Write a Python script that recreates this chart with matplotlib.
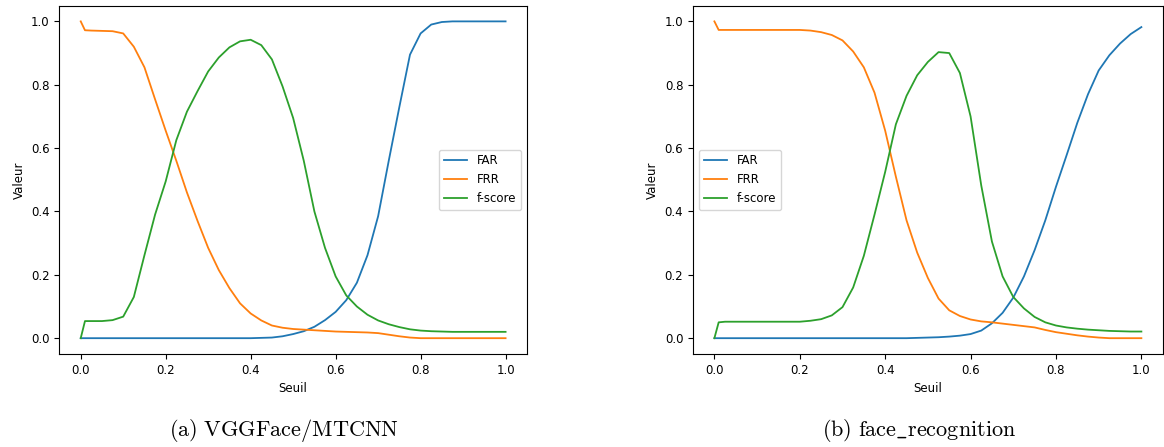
import matplotlib
matplotlib.use("Agg")
import matplotlib.pyplot as plt

plt.rcParams['mathtext.fontset'] = 'cm'
plt.rcParams['font.size'] = 8.5

# seuils communs aux deux courbes
seuil = [0.0, 0.01, 0.025, 0.05, 0.075, 0.1, 0.125, 0.15, 0.175, 0.2,
         0.225, 0.25, 0.275, 0.3, 0.325, 0.35, 0.375, 0.4, 0.425, 0.45,
         0.475, 0.5, 0.525, 0.55, 0.575, 0.6, 0.625, 0.65, 0.675, 0.7,
         0.725, 0.75, 0.775, 0.8, 0.825, 0.85, 0.875, 0.9, 0.925, 0.95,
         0.975, 1.0]

# (a) VGGFace/MTCNN
far_vgg = [0, 0, 0, 0, 0, 0, 0, 0, 0, 0,
           0, 0, 0, 0, 0, 0, 0, 0, 0.001, 0.002,
           0.006, 0.013, 0.022, 0.036, 0.057, 0.083, 0.12, 0.175, 0.262, 0.385,
           0.56, 0.73, 0.895, 0.962, 0.99, 0.998, 1.0, 1.0, 1.0, 1.0,
           1.0, 1.0]
frr_vgg = [1.0, 0.972, 0.971, 0.970, 0.969, 0.962, 0.92, 0.855, 0.754, 0.655,
           0.56, 0.46, 0.37, 0.285, 0.215, 0.158, 0.11, 0.078, 0.056, 0.04,
           0.033, 0.029, 0.027, 0.025, 0.023, 0.021, 0.02, 0.019, 0.018, 0.016,
           0.011, 0.006, 0.002, 0.0, 0.0, 0.0, 0.0, 0.0, 0.0, 0.0,
           0.0, 0.0]
fscore_vgg = [0.0, 0.054, 0.054, 0.054, 0.057, 0.068, 0.13, 0.262, 0.39, 0.495,
              0.625, 0.715, 0.78, 0.842, 0.886, 0.918, 0.937, 0.942, 0.925, 0.88,
              0.795, 0.695, 0.56, 0.40, 0.285, 0.195, 0.135, 0.10, 0.074, 0.056,
              0.044, 0.035, 0.028, 0.024, 0.022, 0.021, 0.02, 0.02, 0.02, 0.02,
              0.02, 0.02]

# (b) face_recognition
far_fr = [0, 0, 0, 0, 0, 0, 0, 0, 0, 0,
          0, 0, 0, 0, 0, 0, 0, 0, 0, 0,
          0.001, 0.002, 0.003, 0.005, 0.008, 0.013, 0.024, 0.047, 0.08, 0.128,
          0.195, 0.278, 0.372, 0.478, 0.578, 0.68, 0.77, 0.845, 0.893, 0.93,
          0.96, 0.982]
frr_fr = [1.0, 0.973, 0.973, 0.973, 0.973, 0.973, 0.973, 0.973, 0.973, 0.973,
          0.971, 0.966, 0.957, 0.94, 0.905, 0.855, 0.775, 0.655, 0.51, 0.372,
          0.27, 0.19, 0.125, 0.088, 0.07, 0.059, 0.053, 0.05, 0.046, 0.042,
          0.038, 0.034, 0.026, 0.019, 0.014, 0.009, 0.005, 0.002, 0.0, 0.0,
          0.0, 0.0]
fscore_fr = [0.0, 0.05, 0.052, 0.052, 0.052, 0.052, 0.052, 0.052, 0.052, 0.052,
             0.055, 0.06, 0.072, 0.098, 0.16, 0.26, 0.39, 0.525, 0.675, 0.765,
             0.83, 0.872, 0.903, 0.9, 0.837, 0.70, 0.482, 0.305, 0.195, 0.13,
             0.094, 0.067, 0.05, 0.04, 0.034, 0.03, 0.027, 0.025, 0.023, 0.022,
             0.021, 0.021]

fig = plt.figure(figsize=(11.64, 4.47), dpi=100)
ax1 = fig.add_axes([0.0511, 0.208, 0.4015, 0.7796])
ax2 = fig.add_axes([0.5954, 0.208, 0.4035, 0.7796])

def tracer(ax, far, frr, fscore, position):
    ax.plot(seuil, far, label='FAR', lw=1.3)
    ax.plot(seuil, frr, label='FRR', lw=1.3)
    ax.plot(seuil, fscore, label='f-score', lw=1.3)
    ax.set_xlabel('Seuil')
    ax.set_ylabel('Valeur')
    ax.legend(loc=position)

tracer(ax1, far_vgg, frr_vgg, fscore_vgg, 'center right')
tracer(ax2, far_fr, frr_fr, fscore_fr, 'center left')

fig.text(0.244, 0.038, r'$\mathrm{(a)\ VGGFace/MTCNN}$', ha='center', va='center', fontsize=16)
fig.text(0.790, 0.038, r'$\mathrm{(b)\ face\_recognition}$', ha='center', va='center', fontsize=16)

fig.savefig('out.png', dpi=100)
